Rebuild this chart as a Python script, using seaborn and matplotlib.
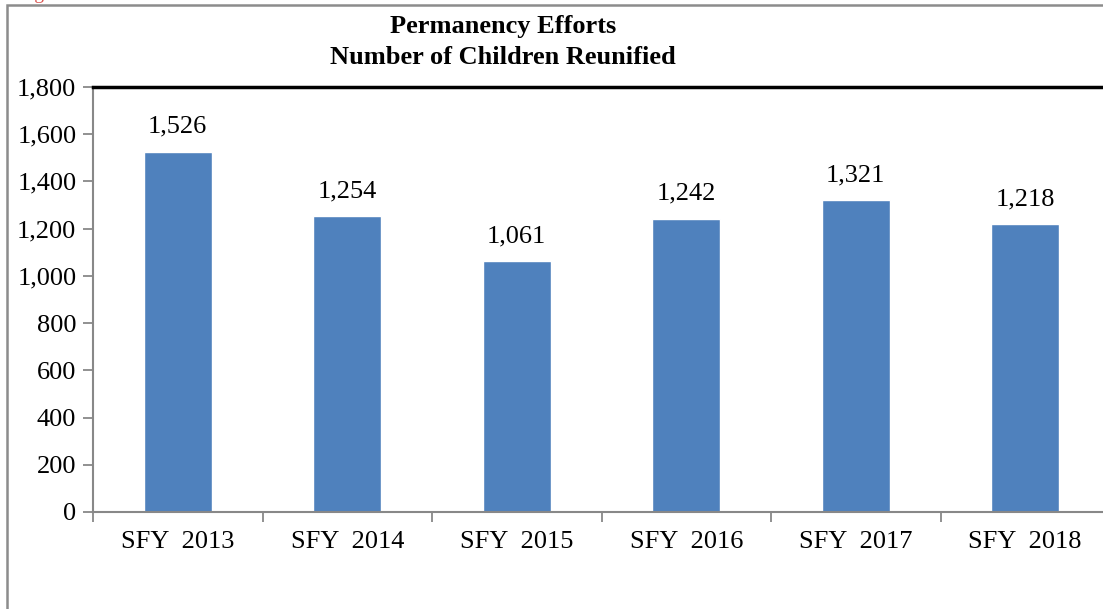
import numpy as np
import matplotlib.pyplot as plt
import matplotlib.patches as mpatches
from matplotlib.ticker import FixedLocator, FuncFormatter
import seaborn as sns

sns.set_theme(style="white")
plt.rcParams['font.family'] = ['Liberation Serif', 'DejaVu Serif']

years = ["SFY  2013", "SFY  2014", "SFY  2015", "SFY  2016", "SFY  2017", "SFY  2018"]
reunified = [1526, 1254, 1061, 1242, 1321, 1218]
y_ticks = [0, 200, 400, 600, 800, 1000, 1200, 1400, 1600, 1800]

W, H = 1103, 609
fig = plt.figure(figsize=(W / 100, H / 100), dpi=100)
ax = fig.add_axes([93 / W, (H - 512) / H, 1017 / W, 425 / H])

sns.barplot(x=years, y=reunified, color="#4F81BD", width=0.4, saturation=1, ax=ax)

ax.set_xlim(-0.5, 5.5)
ax.set_ylim(0, 1800)
ax.yaxis.set_major_locator(FixedLocator(y_ticks))
ax.yaxis.set_major_formatter(FuncFormatter(lambda v, p: f"{int(v):,}"))
ax.tick_params(axis="y", which="major", direction="out", length=7, width=1.3,
               color="#888888", labelsize=19, pad=5, left=True)
ax.tick_params(axis="x", which="major", length=0, labelsize=19, pad=14)
ax.xaxis.set_minor_locator(FixedLocator(np.arange(-0.5, 6, 1)))
ax.tick_params(axis="x", which="minor", direction="out", length=7, width=1.3,
               color="#888888", bottom=True)
for lbl in ax.get_xticklabels() + ax.get_yticklabels():
    lbl.set_color("black")

for side in ["left", "bottom"]:
    ax.spines[side].set_color("#888888")
    ax.spines[side].set_linewidth(1.5)
ax.spines["top"].set_color("black")
ax.spines["top"].set_linewidth(2.5)
ax.spines["right"].set_visible(False)
ax.set_xlabel("")
ax.set_ylabel("")

for i, v in enumerate(reunified):
    ax.annotate(f"{v:,}", (i, v), xytext=(0, 10), textcoords="offset points",
                ha="center", va="bottom", fontsize=19, color="black")

fig.text(503 / W, 1 - 42 / H, "Permanency Efforts\nNumber of Children Reunified",
         ha="center", va="center", fontsize=19, fontweight="bold",
         linespacing=1.4, color="black")

# outer chart border
fig.patches.append(mpatches.Rectangle((7 / W, -0.1), 1.2, 1 - 5 / H + 0.1,
                                      transform=fig.transFigure, fill=False,
                                      edgecolor="#8c8c8c", linewidth=1.8))
# caption above the chart, mostly cut off by the page edge
fig.text(18 / W, 1 + 1 / H, "Figure 6", ha="left", va="baseline",
         fontsize=14, color="#d9534f")

fig.savefig("out.png", dpi=100)
